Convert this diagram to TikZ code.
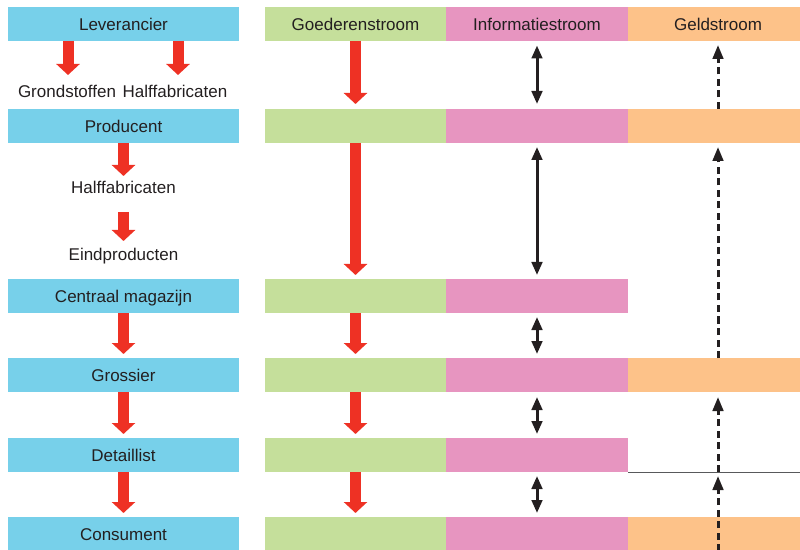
\documentclass[tikz,border=0pt]{standalone}
\usepackage{fontspec}
\setmainfont{Liberation Sans}
\usetikzlibrary{arrows.meta}
\definecolor{cblue}{HTML}{77D0EA}
\definecolor{cgreen}{HTML}{C5DF9B}
\definecolor{cpink}{HTML}{E795C0}
\definecolor{corange}{HTML}{FDC289}
\definecolor{cred}{HTML}{EE3124}
\definecolor{cdark}{HTML}{231F20}
\definecolor{cline}{HTML}{58595B}
\begin{document}
\begin{tikzpicture}[x=1bp,y=-1bp,
  font=\fontsize{17bp}{20bp}\selectfont, text=cdark,
  bar/.style={minimum height=34bp, inner sep=0pt, outer sep=0pt, text height=12.2bp, text depth=0pt},
  bluebar/.style={bar, fill=cblue, minimum width=231bp},
  greenbar/.style={bar, fill=cgreen, minimum width=181bp},
  pinkbar/.style={bar, fill=cpink, minimum width=182bp},
  orangebar/.style={bar, fill=corange, minimum width=180bp},
  lbl/.style={inner sep=0pt, outer sep=0pt, text height=12.2bp, text depth=0pt},
  redarr/.style={draw=cred, line width=11bp, -{Triangle[width=23bp,length=11bp]}},
  infoarr/.style={draw=cdark, line width=3bp, {Triangle[width=10.5bp,length=13bp]}-{Triangle[width=10.5bp,length=13bp]}},
  moneyarr/.style={draw=cdark, line width=3bp, dash pattern=on 7bp off 4.5bp, -{Triangle[width=10.5bp,length=14bp]}},
  divider/.style={draw=cline, line width=1bp}
]
\useasboundingbox (0,0) rectangle (800,550);
\clip (0,0) rectangle (800,550);

% left column
\node[bluebar] (lev)  at (123.5,24)  {Leverancier};
\node[bluebar] (prod) at (123.5,126) {Producent};
\node[bluebar] (cm)   at (123.5,296) {Centraal magazijn};
\node[bluebar] (gro)  at (123.5,375) {Grossier};
\node[bluebar] (det)  at (123.5,455) {Detaillist};
\node[bluebar] (con)  at (123.5,534) {Consument};

\node[lbl] (grond) at (67,91.5)   {Grondstoffen};
\node[lbl] (halfa) at (175,91.5) {Halffabricaten};
\node[lbl] (halfb) at (123.5,187.5) {Halffabricaten};
\node[lbl] (eind)  at (123.5,254)   {Eindproducten};

% green column
\node[greenbar] (g1) at (355.5,24)  {Goederenstroom};
\node[greenbar] (g2) at (355.5,126) {};
\node[greenbar] (g3) at (355.5,296) {};
\node[greenbar] (g4) at (355.5,375) {};
\node[greenbar] (g5) at (355.5,455) {};
\node[greenbar] (g6) at (355.5,534) {};

% pink column
\node[pinkbar] (p1) at (537,24)  {Informatiestroom};
\node[pinkbar] (p2) at (537,126) {};
\node[pinkbar] (p3) at (537,296) {};
\node[pinkbar] (p4) at (537,375) {};
\node[pinkbar] (p5) at (537,455) {};
\node[pinkbar] (p6) at (537,534) {};

% orange column
\node[orangebar] (o1) at (718,24)  {Geldstroom};
\node[orangebar] (o2) at (718,126) {};
\node[orangebar] (o4) at (718,375) {};
\node[orangebar] (o6) at (718,534) {};

\coordinate (dl) at (o4 |- p5.south);
\draw[divider] (p5.south east) -- (p5.south east -| o6.east);

% red arrows, left column
\draw[redarr, shorten >=10.4bp] ([xshift=1bp]lev.south -| grond.north) -- ([xshift=1bp]grond.north);
\draw[redarr, shorten >=10.4bp] ([xshift=3bp]lev.south -| halfa.north) -- ([xshift=3bp]halfa.north);
\draw[redarr, shorten >=5.4bp] (prod.south) -- (halfb.north);
\draw[redarr, shorten <=18.4bp, shorten >=6.9bp] (halfb.south) -- (eind.north);
\draw[redarr, shorten >=4bp] (cm.south) -- (gro.north);
\draw[redarr, shorten >=4bp] (gro.south) -- (det.north);
\draw[redarr, shorten >=4bp] (det.south) -- (con.north);

% red arrows, goods flow
\draw[redarr, shorten >=5bp] (g1.south) -- (g2.north);
\draw[redarr, shorten >=4bp] (g2.south) -- (g3.north);
\draw[redarr, shorten >=4bp] (g3.south) -- (g4.north);
\draw[redarr, shorten >=4bp] (g4.south) -- (g5.north);
\draw[redarr, shorten >=4bp] (g5.south) -- (g6.north);

% information flow
\draw[infoarr, shorten <=4.5bp, shorten >=5bp] (p1.south) -- (p2.north);
\draw[infoarr, shorten <=4bp, shorten >=4bp] (p2.south) -- (p3.north);
\draw[infoarr, shorten <=4bp, shorten >=4bp] (p3.south) -- (p4.north);
\draw[infoarr, shorten <=5bp, shorten >=4bp] (p4.south) -- (p5.north);
\draw[infoarr, shorten <=4bp, shorten >=4bp] (p5.south) -- (p6.north);

% money flow
\draw[moneyarr, shorten >=4bp] (o2.north) -- (o1.south);
\draw[moneyarr, shorten >=4bp] (o4.north) -- (o2.south);
\draw[moneyarr, shorten >=5bp] (dl) -- (o4.south);
\draw[moneyarr, shorten >=4bp] (o6.south) -- (dl);
\end{tikzpicture}
\end{document}
